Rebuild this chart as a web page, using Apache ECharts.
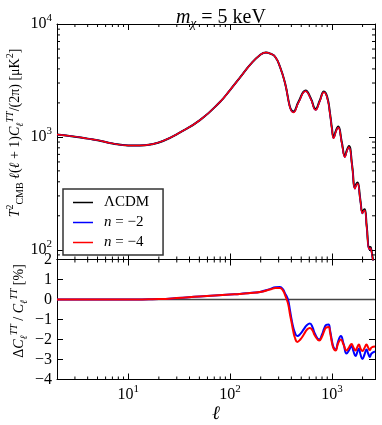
<!DOCTYPE html>
<html>
<head>
<meta charset="utf-8">
<script src="https://cdn.jsdelivr.net/npm/echarts@6/dist/echarts.min.js"></script>
<style>html,body{margin:0;padding:0;background:#fff}#chart{width:382px;height:425px}</style>
</head>
<body>
<div id="chart"></div>
<script>
// multipoles and TT spectra (upper panel)
var ellTT = [2,3,4,5,7,10,13,17,22,32,51,80,100,125,157,197,225,250,277,309,347,383,400,418,470,552,620,692,760,835,900,960,1000,1040,1100,1154,1250,1343,1400,1470,1580,1683,1740,1787,1900,1995,2050,2100,2200,2320,2370,2410,2500,2650];
var dlLcdm = [1050,1005,965,935,875,840,838,860,920,1090,1414,2050,2600,3350,4340,5320,5600,5450,5130,4190,2985,1920,1730,1680,2050,2575,2200,1767,2100,2520,2250,1600,1200,995,1150,1236,900,677,760,831,560,356,385,394,280,215,225,228,160,103.5,106,105,88,60];
var dlN2 = [1050,1005,965,935,875,840,838,860,920,1090,1414,2050,2600,3350,4340,5320,5600,5450,5130,4190,2985,1900,1700,1650,2015,2540,2170,1732,2065,2490,2210,1570,1175,970,1125,1212,880,659,740,812,547,346,375,384,273,209,219,222,156,100.5,103,102,85.5,58];
var dlN4 = [1050,1005,965,935,875,840,838,860,920,1090,1414,2050,2600,3350,4340,5320,5600,5450,5130,4190,2985,1898,1695,1645,2010,2538,2165,1731,2062,2487,2207,1568,1174,970,1123,1211,880,660,742,813,547,347,376,385,274,210,220,223,156,101,103.5,102.5,86,58];

// relative differences in percent (lower panel)
var ellRes = [2,5,10,16,20,30,50,100,125,157,197,246,280,309,330,347,360,373,388,402,418,433,457,490,530,570,608,645,680,751,800,840,880,927,960,1000,1040,1086,1150,1225,1300,1393,1470,1560,1630,1707,1770,1840,1910,1995,2090,2185,2270,2355,2450,2650];
var resN2 = [0,0,0,0.01,0.02,0.07,0.15,0.25,0.28,0.33,0.38,0.52,0.61,0.62,0.52,0.3,0.15,-0.05,-0.55,-1.0,-1.4,-1.65,-1.83,-1.72,-1.48,-1.27,-1.2,-1.38,-1.7,-2.0,-1.75,-1.45,-1.27,-1.25,-1.55,-2.05,-2.4,-2.5,-2.1,-1.83,-2.2,-2.7,-2.55,-2.33,-2.6,-2.83,-2.65,-2.45,-2.75,-2.97,-2.75,-2.5,-2.7,-2.87,-2.7,-2.6];
var resN4 = [0,0,0,0.01,0.02,0.07,0.15,0.25,0.28,0.33,0.37,0.5,0.57,0.58,0.46,0.22,0.0,-0.25,-0.75,-1.15,-1.6,-1.9,-2.12,-2.0,-1.75,-1.5,-1.42,-1.55,-1.8,-2.05,-1.85,-1.58,-1.4,-1.38,-1.65,-2.15,-2.45,-2.55,-2.2,-2.0,-2.25,-2.55,-2.4,-2.22,-2.4,-2.55,-2.4,-2.25,-2.45,-2.58,-2.42,-2.25,-2.4,-2.53,-2.4,-2.35];
var ellRef = [2, 2650];
var resLcdm = [0, 0];

var names = ['ΛCDM', 'n = −2', 'n = −4'];
var SERIF = '"Liberation Serif", "DejaVu Serif", serif';
var xMin = 2, xMax = 2650, yMin = 82, yMax = 10000;

function pairs(xs, ys) { return xs.map(function (x, i) { return [x, ys[i]]; }); }

// minor tick positions 2..9 x 10^n inside a range
function minorLog(lo, hi) {
  var out = [];
  for (var e = 0; e <= 4; e++) {
    for (var m = 2; m <= 9; m++) {
      var v = m * Math.pow(10, e);
      if (v > lo && v < hi) out.push(v);
    }
  }
  return out;
}

var supRich = {
  b: { fontFamily: SERIF, fontSize: 16, lineHeight: 22, color: '#000' },
  s: { fontFamily: SERIF, fontSize: 11, lineHeight: 11, verticalAlign: 'top', color: '#000' }
};
function pow10Label(v) {
  var e = Math.round(Math.log10(v));
  if (Math.abs(v - Math.pow(10, e)) > 1e-6 * v) return '';
  return '{b|10}{s|' + e + '}';
}

function xAx(grid, pos, labels) {
  var ax = {
    type: 'log', gridIndex: grid, position: pos, min: xMin, max: xMax,
    axisLine: { show: true, onZero: false, lineStyle: { color: '#000', width: 1 } },
    axisTick: { show: true, inside: true, length: 6, lineStyle: { color: '#000' } },
    splitLine: { show: false },
    axisLabel: { show: false }
  };
  if (labels) {
    ax.axisLabel = { show: true, margin: 4, formatter: pow10Label, rich: supRich };
    ax.name = 'ℓ';
    ax.nameLocation = 'middle';
    ax.nameGap = 25;
    ax.nameTextStyle = { fontFamily: SERIF, fontStyle: 'italic', fontSize: 19, color: '#000' };
  }
  return ax;
}

function yLogAx(pos, labels) {
  return {
    type: 'log', gridIndex: 0, position: pos, min: yMin, max: yMax,
    axisLine: { show: true, onZero: false, lineStyle: { color: '#000', width: 1 } },
    axisTick: { show: true, inside: true, length: 6, lineStyle: { color: '#000' } },
    splitLine: { show: false },
    axisLabel: labels ? { show: true, margin: 5, formatter: pow10Label, rich: supRich } : { show: false }
  };
}

function yResAx(pos, labels) {
  return {
    type: 'value', gridIndex: 1, position: pos, min: -4, max: 2, interval: 1,
    axisLine: { show: true, onZero: false, lineStyle: { color: '#000', width: 1 } },
    axisTick: { show: true, inside: true, length: 6, lineStyle: { color: '#000' } },
    splitLine: { show: false },
    axisLabel: labels ? {
      show: true, margin: 5, fontFamily: SERIF, fontSize: 16, color: '#000',
      formatter: function (v) { return v < 0 ? '−' + (-v) : String(v); }
    } : { show: false }
  };
}

// minor ticks drawn through the axes' own coordinate mapping
function minorX(xi, yi, lo, hi) {
  return {
    type: 'custom', xAxisIndex: xi, yAxisIndex: yi, silent: true, clip: false, z: 5,
    data: minorLog(xMin, xMax).map(function (v) { return [v, lo]; }),
    renderItem: function (params, api) {
      var a = api.coord([api.value(0), lo]);
      var b = api.coord([api.value(0), hi]);
      var st = { stroke: '#000', lineWidth: 1 };
      return { type: 'group', children: [
        { type: 'line', shape: { x1: a[0], y1: a[1], x2: a[0], y2: a[1] - 3 }, style: st },
        { type: 'line', shape: { x1: b[0], y1: b[1], x2: b[0], y2: b[1] + 3 }, style: st }
      ] };
    }
  };
}
function minorY() {
  return {
    type: 'custom', xAxisIndex: 0, yAxisIndex: 0, silent: true, clip: false, z: 5,
    data: minorLog(yMin, yMax).map(function (v) { return [xMin, v]; }),
    renderItem: function (params, api) {
      var a = api.coord([xMin, api.value(1)]);
      var b = api.coord([xMax, api.value(1)]);
      var st = { stroke: '#000', lineWidth: 1 };
      return { type: 'group', children: [
        { type: 'line', shape: { x1: a[0], y1: a[1], x2: a[0] + 3, y2: a[1] }, style: st },
        { type: 'line', shape: { x1: b[0], y1: b[1], x2: b[0] - 3, y2: b[1] }, style: st }
      ] };
    }
  };
}

function line(name, xi, yi, data, color, width, z) {
  return {
    name: name, type: 'line', xAxisIndex: xi, yAxisIndex: yi, data: data,
    symbol: 'none', smooth: 0.5, z: z,
    lineStyle: { color: color, width: width }, itemStyle: { color: color }
  };
}

var labRich = {
  r: { fontFamily: SERIF, fontSize: 14, lineHeight: 20, color: '#000' },
  i: { fontFamily: SERIF, fontSize: 14, lineHeight: 20, fontStyle: 'italic', color: '#000' },
  sp: { fontFamily: SERIF, fontSize: 10, lineHeight: 10, verticalAlign: 'top', color: '#000' },
  spi: { fontFamily: SERIF, fontSize: 10, lineHeight: 10, verticalAlign: 'top', fontStyle: 'italic', color: '#000' },
  sb: { fontFamily: SERIF, fontSize: 10, lineHeight: 10, verticalAlign: 'bottom', color: '#000' },
  sbi: { fontFamily: SERIF, fontSize: 10, lineHeight: 10, verticalAlign: 'bottom', fontStyle: 'italic', color: '#000' }
};

var chart = echarts.init(document.getElementById('chart'));
var option = {
  animation: false,
  backgroundColor: '#fff',
  title: {
    text: '{i|m}{s|χ}{r| = 5 keV}',
    left: 216, top: 1, textAlign: 'center',
    textStyle: {
      fontWeight: 'normal',
      rich: {
        i: { fontFamily: SERIF, fontSize: 20, fontStyle: 'italic', fontWeight: 'normal', lineHeight: 24, color: '#000' },
        s: { fontFamily: SERIF, fontSize: 13, fontStyle: 'italic', fontWeight: 'normal', lineHeight: 12, verticalAlign: 'bottom', color: '#000' },
        r: { fontFamily: SERIF, fontSize: 20, fontWeight: 'normal', lineHeight: 24, color: '#000' }
      }
    }
  },
  grid: [
    { left: 57, right: 7, top: 24, height: 235.5 },
    { left: 57, right: 7, top: 259.5, height: 120 }
  ],
  xAxis: [xAx(0, 'bottom', false), xAx(0, 'top', false), xAx(1, 'bottom', true), xAx(1, 'top', false)],
  yAxis: [yLogAx('left', true), yLogAx('right', false), yResAx('left', true), yResAx('right', false)],
  legend: {
    data: names, orient: 'vertical', left: 63, top: 189,
    icon: 'rect', itemWidth: 20, itemHeight: 1.5, itemGap: 5,
    padding: [6, 14, 5, 10],
    borderColor: '#333', borderWidth: 1.5, borderRadius: 0, backgroundColor: '#fff',
    textStyle: {
      fontFamily: SERIF, fontSize: 15, fontWeight: 'normal', color: '#000', padding: [0, 0, 0, 6],
      rich: {
        r: { fontFamily: SERIF, fontSize: 15, fontWeight: 'normal', lineHeight: 14, color: '#000' },
        i: { fontFamily: SERIF, fontSize: 15, fontWeight: 'normal', lineHeight: 14, fontStyle: 'italic', color: '#000' }
      }
    },
    formatter: function (n) {
      return n === 'ΛCDM' ? '{r|ΛCDM}' : '{i|n}{r|' + n.slice(1) + '}';
    }
  },
  graphic: [
    {
      type: 'text', x: 15, y: 133, rotation: Math.PI / 2,
      style: {
        text: '{i|T}{sp|2}{sb|CMB}{i| ℓ}{r|(}{i|ℓ}{r| + 1)}{i|C}{sbi|ℓ}{spi|TT}{r|/(2π) [μK}{sp|2}{r|]}',
        rich: labRich, align: 'center', verticalAlign: 'middle', fill: '#000'
      }
    },
    {
      type: 'text', x: 19, y: 311, rotation: Math.PI / 2,
      style: {
        text: '{r|Δ}{i|C}{sbi|ℓ}{spi|TT}{r| / }{i|C}{sbi|ℓ}{spi|TT}{r| [%]}',
        rich: labRich, align: 'center', verticalAlign: 'middle', fill: '#000'
      }
    }
  ],
  series: [
    line(names[0], 0, 0, pairs(ellTT, dlLcdm), '#000', 2.0, 2),
    line(names[1], 0, 0, pairs(ellTT, dlN2), '#0000ff', 1.4, 3),
    line(names[2], 0, 0, pairs(ellTT, dlN4), '#ff0000', 1.4, 4),
    line(names[0], 2, 2, pairs(ellRef, resLcdm), '#444', 1.5, 2),
    line(names[1], 2, 2, pairs(ellRes, resN2), '#0000ff', 2, 3),
    line(names[2], 2, 2, pairs(ellRes, resN4), '#ff0000', 2, 4),
    minorX(0, 0, yMin, yMax),
    minorX(2, 2, -4, 2),
    minorY()
  ]
};
chart.setOption(option);
</script>
</body>
</html>
